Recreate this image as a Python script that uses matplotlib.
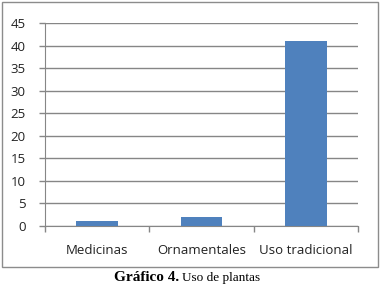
import matplotlib
matplotlib.use("Agg")
import matplotlib.pyplot as plt
from matplotlib.patches import Rectangle

categories = ["Medicinas", "Ornamentales", "Uso tradicional"]
values = [1, 2, 41]
yticks = [0, 5, 10, 15, 20, 25, 30, 35, 40, 45]

W, H = 382, 286
fig = plt.figure(figsize=(W / 100, H / 100), dpi=100)
fig.patch.set_facecolor("white")

# outer chart border
fig.patches.append(Rectangle((1.5 / W, 1 - 266.5 / H), 376.5 / W, 265 / H,
                             transform=fig.transFigure, fill=False,
                             edgecolor="#8c8c8c", linewidth=1.0))

ax = fig.add_axes([45 / W, 1 - 226 / H, (358 - 45) / W, (226 - 23) / H])
ax.bar(range(len(categories)), values, width=0.4, color="#4F81BD", zorder=3)
ax.set_xlim(-0.5, 2.5)
ax.set_ylim(0, 45)
ax.set_yticks(yticks)
ax.set_yticklabels([str(v) for v in yticks])
ax.set_xticks(range(len(categories)))
ax.set_xticklabels(categories)
ax.set_xticks([-0.5, 0.5, 1.5, 2.5], minor=True)
ax.tick_params(axis="x", which="major", length=0, pad=13)
ax.tick_params(axis="x", which="minor", length=4, color="#868686", width=1, direction="out")
ax.tick_params(axis="y", length=4, color="#868686", width=1, pad=10)
for lab in ax.get_xticklabels() + ax.get_yticklabels():
    lab.set_fontfamily("Open Sans")
    lab.set_fontsize(9.5)
    lab.set_color("#222222")
ax.yaxis.grid(True, color="#868686", linewidth=1, zorder=0)
for s in ["top", "right"]:
    ax.spines[s].set_visible(False)
ax.spines["left"].set_color("#868686")
ax.spines["bottom"].set_color("#868686")
ax.set_facecolor("white")

t1 = fig.text(114 / W, 1 - 277.5 / H, "Gráfico 4.", ha="left", va="baseline",
              fontfamily="Liberation Serif", fontweight="bold", fontsize=11)
fig.canvas.draw()
bb = t1.get_window_extent()
fig.text((bb.x1 + 3) / W, 1 - 277.5 / H, "Uso de plantas", ha="left", va="baseline",
         fontfamily="Liberation Serif", fontsize=9.5)
# adjust baseline to look centered
for t in fig.texts:
    t.set_y(1 - 281 / H)

fig.savefig("out.png", dpi=100, facecolor="white")
